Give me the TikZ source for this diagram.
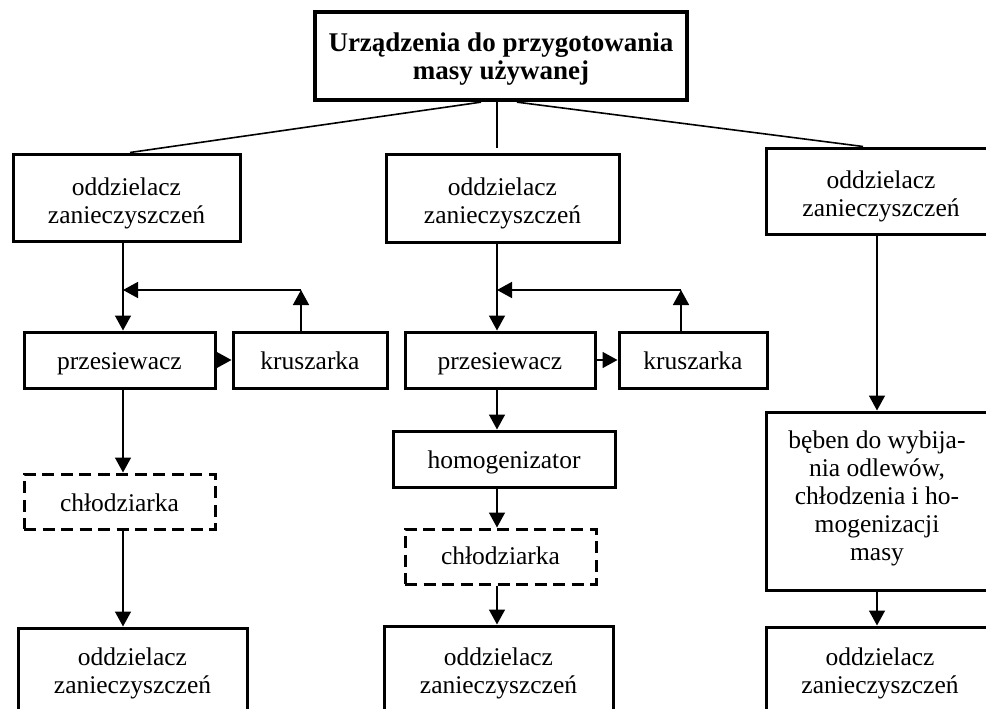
\documentclass[tikz,border=0pt]{standalone}
\usepackage{fontspec}
\setmainfont{Liberation Serif}
\usetikzlibrary{arrows.meta}

% stacked, centred lines; the first line carries the baseline
\newcommand{\stk}[1]{\begin{tabular}[t]{@{}c@{}}#1\end{tabular}}

\tikzset{
  box/.style={draw, line width=3pt, inner sep=0pt,
              font=\fontsize{25.5}{28}\selectfont},
  titlebox/.style={box, line width=4.3pt,
              font=\fontsize{27}{27.5}\selectfont\bfseries},
  dbox/.style={box, dash pattern=on 12pt off 6.5pt},
  % first baseline above (raise) or below (drop) the box centre by half the value
  raise/.style={text height=0pt, text depth=#1},
  drop/.style={text height=#1, text depth=0pt},
  conn/.style={line width=1.6pt},
  arr/.style={conn, -{Triangle[length=15pt,width=16pt]}},
}

\begin{document}
\begin{tikzpicture}[x=1pt, y=-1pt]
  \path[use as bounding box] (0,0) rectangle (986,709);
  \fill[white] (0,0) rectangle (986,709);
  \clip (0,0) rectangle (986,709);

  % head of the tree
  \node[titlebox, raise=8pt, minimum width=372pt, minimum height=88pt] (top) at (501,56)
    {\stk{Urządzenia do przygotowania\\masy używanej}};

  % first row: impurity separators
  \node[box, raise=4pt, minimum width=227pt, minimum height=87pt] (L1) at (126.5,197.5) {\stk{oddzielacz\\zanieczyszczeń}};
  \node[box, raise=6pt, minimum width=233pt, minimum height=88pt] (M1) at (502.5,198) {\stk{oddzielacz\\zanieczyszczeń}};
  \node[box, raise=5pt, minimum width=230pt, minimum height=86pt] (R1) at (881,191) {\stk{oddzielacz\\zanieczyszczeń}};

  % screens and crushers
  \node[box, drop=19pt, minimum width=191pt, minimum height=56pt] (Lp) at (119.5,360) {przesiewacz};
  \node[box, drop=19pt, minimum width=154pt, minimum height=56pt] (Lk) at (310,360) {kruszarka};
  \node[box, drop=19pt, minimum width=190pt, minimum height=56pt] (Mp) at (500,360) {przesiewacz};
  \node[box, drop=19pt, minimum width=148pt, minimum height=56pt] (Mk) at (693,360) {kruszarka};

  % further stages
  \node[dbox, drop=19pt, minimum width=191pt, minimum height=55pt] (Lc) at (119.5,501.5) {chłodziarka};
  \node[box, drop=19pt, minimum width=222pt, minimum height=56pt] (Mh) at (504,459) {homogenizator};
  \node[dbox, drop=16pt, minimum width=191pt, minimum height=55pt] (Mc) at (500.5,556.5) {chłodziarka};
  \node[box, raise=105pt, minimum width=222pt, minimum height=178pt] (Rd) at (877,501)
    {\stk{bęben do wybija-\\nia odlewów,\\chłodzenia i ho-\\mogenizacji\\masy}};

  % last row: impurity separators
  \node[box, raise=14pt, minimum width=229pt, minimum height=88pt] (L2) at (132.5,672) {\stk{oddzielacz\\zanieczyszczeń}};
  \node[box, raise=10pt, minimum width=229pt, minimum height=88pt] (M2) at (498.5,670) {\stk{oddzielacz\\zanieczyszczeń}};
  \node[box, raise=12pt, minimum width=228pt, minimum height=88pt] (R2) at (880,671) {\stk{oddzielacz\\zanieczyszczeń}};

  % column axes and return-loop corners
  \coordinate (lx) at (123,0);
  \coordinate (mx) at (497,0);
  \coordinate (rx) at (877,0);
  \coordinate (lj) at (123,290);
  \coordinate (lc) at (301,290);
  \coordinate (mj) at (497,290);
  \coordinate (mc) at (681,290);

  % branches from the head
  \draw[conn] (top.south -| 481,0) -- (L1.north -| 130,0);
  \draw[conn] (top.south -| mx) -- ([yshift=5pt]M1.north -| mx);
  \draw[conn] (top.south -| 517,0) -- (R1.north -| 863,0);

  % left column
  \draw[arr] (L1.south -| lx) -- (Lp.north -| lx);
  \draw[arr] (Lp.east) -- (Lk.west);
  \draw[arr] (Lk.north -| lc) -- (lc);
  \draw[arr] (lc) -- (lj);
  \draw[arr] (Lp.south -| lx) -- (Lc.north -| lx);
  \draw[arr] (Lc.south -| lx) -- (L2.north -| lx);

  % middle column
  \draw[arr] (M1.south -| mx) -- (Mp.north -| mx);
  \draw[arr] (Mp.east) -- (Mk.west);
  \draw[arr] (Mk.north -| mc) -- (mc);
  \draw[arr] (mc) -- (mj);
  \draw[arr] (Mp.south -| mx) -- (Mh.north -| mx);
  \draw[arr] (Mh.south -| mx) -- (Mc.north -| mx);
  \draw[arr] (Mc.south -| mx) -- (M2.north -| mx);

  % right column
  \draw[arr] (R1.south -| rx) -- (Rd.north -| rx);
  \draw[arr] (Rd.south -| rx) -- (R2.north -| rx);
\end{tikzpicture}
\end{document}
